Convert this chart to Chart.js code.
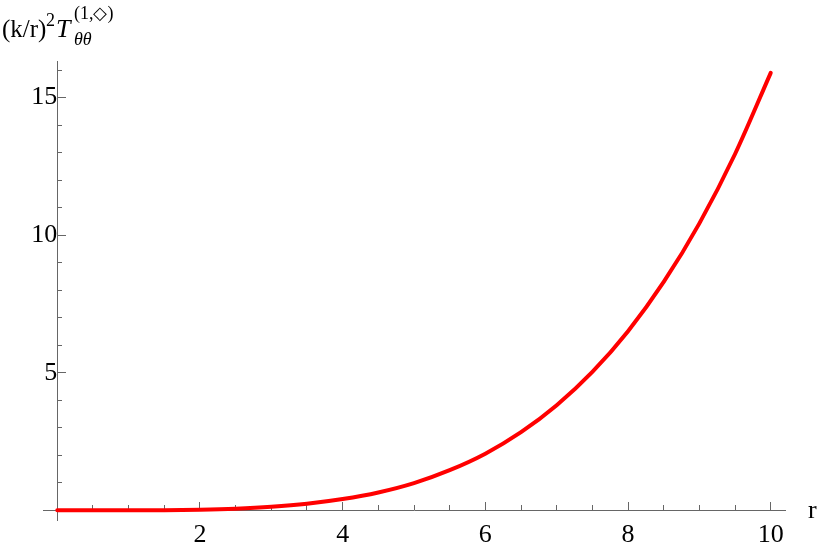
<!DOCTYPE html>
<html><head><meta charset="utf-8">
<script src="https://cdn.jsdelivr.net/npm/chart.js@4/dist/chart.umd.min.js"></script>
<style>html,body{margin:0;padding:0;background:#fff}#wrap{width:817px;height:550px;position:relative}</style>
</head><body><div id="wrap"><canvas id="c" width="817" height="550"></canvas></div>
<script>
const rValues = [0, 0.5, 1, 1.5, 2, 2.5, 3, 3.5, 4, 4.5, 5, 5.5, 6, 6.5, 7, 7.5, 8, 8.5, 9, 9.5, 10];
const tValues = [0, 0.0001, 0.002, 0.008, 0.025, 0.062, 0.13, 0.24, 0.41, 0.65, 0.99, 1.46, 2.06, 2.84, 3.82, 5.03, 6.51, 8.30, 10.43, 12.95, 15.9];
const xMajorTicks = [2, 4, 6, 8, 10];
const xMinorTicks = [0.5, 1, 1.5, 2.5, 3, 3.5, 4.5, 5, 5.5, 6.5, 7, 7.5, 8.5, 9, 9.5];
const yMajorTicks = [5, 10, 15];
const yMinorTicks = [1, 2, 3, 4, 6, 7, 8, 9, 11, 12, 13, 14, 16];
const xAxisTitle = 'r';

const AXIS = '#666666';
const FONT = 'Liberation Serif';

function setTicks(list) { return s => { s.ticks = list.map(v => ({ value: v })); }; }

const titlePlugin = {
  id: 'titles',
  afterDraw(chart) {
    const ctx = chart.ctx;
    ctx.save();
    ctx.fillStyle = '#000';
    ctx.textBaseline = 'alphabetic';
    ctx.textAlign = 'left';
    // y title: (k/r)^2 T_{θθ}^{(1,◇)}
    ctx.font = '25px "' + FONT + '"';
    ctx.fillText('(k/r)', 2, 37);
    ctx.font = '18px "' + FONT + '"';
    ctx.fillText('2', 46, 26);
    ctx.font = 'italic 26px "' + FONT + '"';
    ctx.fillText('T', 56, 37);
    ctx.font = 'italic 18px "' + FONT + '"';
    ctx.fillText('θθ', 74, 45);
    ctx.font = '18px "' + FONT + '"';
    ctx.fillText('(1,◇)', 74, 19);
    // x title
    const xs = chart.scales.x, ys = chart.scales.y;
    ctx.font = '26px "' + FONT + '"';
    ctx.textBaseline = 'middle';
    ctx.fillText(xAxisTitle, xs.right + 23, ys.getPixelForValue(0) + 1);
    ctx.restore();
  }
};

new Chart(document.getElementById('c'), {
  type: 'line',
  data: {
    labels: rValues,
    datasets: [{
      data: rValues.map((r, i) => ({ x: r, y: tValues[i] })),
      borderColor: '#ff0000',
      borderWidth: 4,
      pointRadius: 0,
      fill: false,
      cubicInterpolationMode: 'monotone',
      borderCapStyle: 'round',
      xAxisID: 'x',
      yAxisID: 'y'
    }]
  },
  options: {
    responsive: false,
    animation: false,
    devicePixelRatio: 1,
    layout: { padding: { left: 43, right: 32, top: 61, bottom: 30 } },
    plugins: { legend: { display: false }, tooltip: { enabled: false }, title: { display: false } },
    scales: {
      x: {
        type: 'linear', position: { y: 0 }, min: -0.2, max: 10.2,
        afterBuildTicks: setTicks(xMajorTicks),
        grid: { drawOnChartArea: false, tickLength: -9, color: AXIS, lineWidth: 1 },
        border: { display: true, color: AXIS, width: 1 },
        ticks: { autoSkip: false, maxRotation: 0, padding: 18, color: '#000', font: { family: FONT, size: 26 } }
      },
      xMinor: {
        type: 'linear', axis: 'x', position: { y: 0 }, min: -0.2, max: 10.2,
        afterBuildTicks: setTicks(xMinorTicks),
        grid: { drawOnChartArea: false, tickLength: -5, color: AXIS, lineWidth: 1 },
        border: { display: false },
        ticks: { autoSkip: false, maxRotation: 0, padding: 0, callback: () => '', font: { size: 1 } }
      },
      y: {
        type: 'linear', position: { x: 0 }, min: -0.35, max: 16.33,
        afterBuildTicks: setTicks(yMajorTicks),
        grid: { drawOnChartArea: false, tickLength: -9, color: AXIS, lineWidth: 1 },
        border: { display: true, color: AXIS, width: 1 },
        ticks: { autoSkip: false, padding: 18, color: '#000', font: { family: FONT, size: 26, lineHeight: 0.6 } }
      },
      yMinor: {
        type: 'linear', axis: 'y', position: { x: 0 }, min: -0.35, max: 16.33,
        afterBuildTicks: setTicks(yMinorTicks),
        grid: { drawOnChartArea: false, tickLength: -5, color: AXIS, lineWidth: 1 },
        border: { display: false },
        ticks: { autoSkip: false, padding: 0, callback: () => '', font: { size: 1 } }
      }
    }
  },
  plugins: [titlePlugin]
});
</script>
</body></html>
